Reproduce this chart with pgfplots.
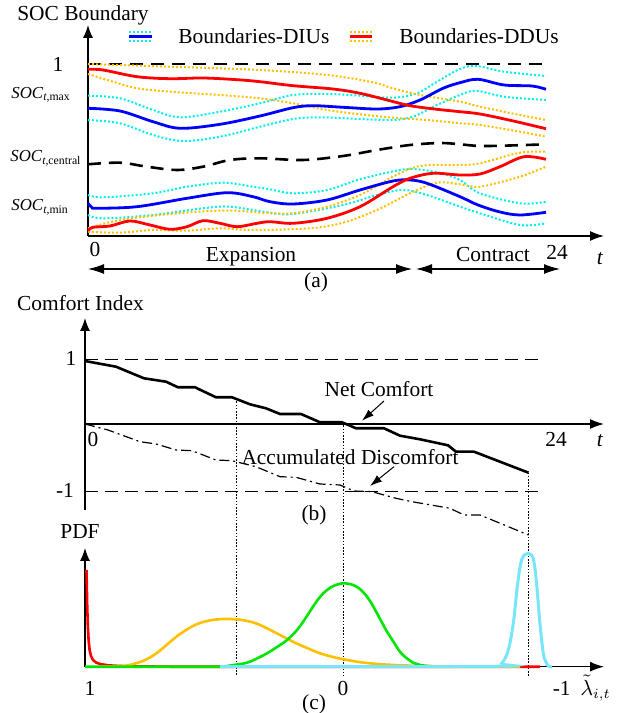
\documentclass[border=0pt]{standalone}
\usepackage{fontspec}
\setmainfont{Liberation Serif}
\usepackage{pgfplots}
\pgfplotsset{compat=1.18}
\usetikzlibrary{arrows.meta}

\definecolor{dblue}{RGB}{0,0,255}
\definecolor{dred}{RGB}{255,0,0}
\definecolor{lcyan}{RGB}{0,240,240}
\definecolor{lorange}{RGB}{255,192,0}
\definecolor{pgreen}{RGB}{0,230,0}
\definecolor{pcyan}{RGB}{120,230,250}

% every panel is laid out in picture pixels (0.5pt each), y counted downwards
\pgfplotsset{
  panel/.style={x=0.5pt, y=0.5pt, anchor=south west, xtick=\empty, ytick=\empty, clip=false,
    x axis line style={line width=0.65pt,-{Latex[length=7pt,width=5pt]}},
    y axis line style={line width=0.65pt,-{Latex[length=6.5pt,width=5pt]}}},
}
\tikzset{
  bound/.style={line width=1.4pt, smooth, tension=0.55},
  band/.style={line width=1pt, dash pattern=on 1pt off 1pt, smooth, tension=0.55},
  ref/.style={black, line width=1.3pt, dash pattern=on 6.5pt off 4pt},
}

\begin{document}
\begin{tikzpicture}[font=\fontsize{10.7}{12.8}\selectfont]
\path[use as bounding box] (0,0) rectangle (312.5pt,356.5pt);

% ---------------- (a) SOC boundaries
\begin{axis}[axis lines=left, panel, at={(44pt,238.5pt)},
  xmin=88, xmax=604, ymin=-236, ymax=-25]
\addplot[ref] coordinates {(88,-64) (546,-64)};
\addplot[ref, smooth, tension=0.55] coordinates {
(88,-164.3) (120,-162.7) (147,-166.7) (177,-170) (203,-166.7) (230,-160)
(260,-158.3) (303,-160) (343,-156) (377,-150) (410,-145) (440,-143)
(460,-144.3) (480,-146) (510,-145.5) (546,-144.3)};

% DIUs, upper boundary
\addplot[band, lcyan] coordinates {
(88,-95.7) (120,-98.3) (153,-110) (180,-117.3) (220,-111.7) (260,-103.3)
(293,-95) (327,-94) (360,-95.7) (393,-97.7) (417,-93.3) (437,-81.7)
(460,-69) (476,-66) (504,-71.7) (546,-76)};
\addplot[band, lcyan] coordinates {
(88,-120) (120,-123.3) (153,-135) (183,-141) (220,-136.7) (260,-126.7)
(293,-119) (320,-117.3) (360,-119) (393,-120) (413,-116.7) (437,-105)
(460,-95) (476,-90.7) (504,-96.7) (546,-100)};
% DDUs, upper boundary
\addplot[band, lorange] coordinates {
(88,-64) (170,-66.7) (260,-70) (327,-75) (370,-81.7) (393,-88.3)
(420,-95) (460,-101.7) (480,-106.7) (520,-115) (546,-120)};
\addplot[band, lorange] coordinates {
(88,-74) (113,-81.7) (137,-88.3) (170,-91.7) (220,-95) (260,-98.3)
(293,-103.3) (327,-110) (360,-114.3) (393,-117.7) (427,-120) (460,-123.3)
(480,-125) (520,-131.7) (546,-136.7)};
\addplot[bound, dblue] coordinates {
(88,-108.3) (120,-111) (153,-121.7) (180,-128.3) (220,-124.3) (260,-116)
(293,-107.7) (313,-105.7) (343,-107.3) (377,-109) (400,-106.7) (420,-100)
(443,-88.3) (460,-82.7) (478,-79.3) (504,-85) (532,-86) (546,-89.3)};
\addplot[bound, dred] coordinates {
(88,-69.3) (103,-70) (137,-76.7) (170,-78.7) (203,-78) (237,-79.7)
(260,-81.7) (293,-85.7) (333,-89) (360,-93.3) (387,-100) (410,-105.7)
(437,-109.3) (460,-111.7) (480,-114) (512,-120.7) (546,-128.7)};

% DIUs, lower boundary
\addplot[band, lcyan] coordinates {
(88,-195) (103,-197.3) (153,-193.3) (187,-186.7) (223,-182.7) (253,-186.7)
(270,-189.3) (293,-193.3) (327,-190) (360,-179.3) (400,-170) (417,-169.3)
(440,-173) (460,-180) (480,-193.3) (520,-203.3) (546,-201.7)};
\addplot[band, lcyan] coordinates {
(88,-215) (103,-218.3) (153,-215) (203,-208.3) (230,-206.7) (270,-212.7)
(293,-214) (343,-205) (377,-195) (403,-190) (427,-195) (460,-206.7)
(480,-213.3) (520,-225) (546,-223.3)};
% DDUs, lower boundary
\addplot[band, lorange] coordinates {
(88,-228.3) (120,-220) (170,-214) (210,-211) (237,-210.7) (265,-213)
(293,-213.3) (327,-206.7) (360,-195) (393,-176.7) (420,-166) (460,-165)
(480,-163.3) (520,-152.7) (546,-151.7)};
\addplot[band, lorange] coordinates {
(88,-231.7) (120,-232.7) (153,-230) (187,-230.7) (220,-228.3) (253,-230)
(310,-228.3) (343,-222.7) (377,-210) (410,-193.3) (437,-182.7) (460,-184.3)
(480,-186.7) (520,-176.7) (546,-166.7)};
\addplot[bound, dblue] coordinates {
(88,-203.3) (92,-207.5) (97,-208.3) (137,-206.7) (187,-198.3) (227,-192.7)
(253,-196.7) (270,-201.7) (293,-204) (327,-200) (360,-190) (393,-181)
(410,-180) (427,-183.3) (460,-196.7) (478,-205) (500,-212) (520,-215) (546,-212.3)};
\addplot[bound, dred] coordinates {
(88,-230.7) (93,-227.3) (110,-226) (130,-221) (150,-225) (170,-229.3)
(187,-226.7) (203,-220.7) (220,-223.3) (237,-226.7) (257,-223.3) (270,-221.7)
(293,-223.3) (327,-218.3) (360,-206.7) (393,-186.7) (410,-178.3) (433,-173.3)
(460,-175) (480,-174) (500,-166.7) (524,-156.7) (546,-159.3)};

% legend
\draw[band, lcyan] (axis cs:129,-32) -- (axis cs:152,-32);
\draw[dblue, line width=1.4pt] (axis cs:129,-36.5) -- (axis cs:152,-36.5);
\draw[band, lcyan] (axis cs:129,-41.5) -- (axis cs:152,-41.5);
\node[anchor=base west, inner sep=0pt] at (axis cs:178,-43.3) {Boundaries-DIUs};
\draw[band, lorange] (axis cs:350,-32) -- (axis cs:372,-32);
\draw[dred, line width=1.4pt] (axis cs:350,-36.5) -- (axis cs:372,-36.5);
\draw[band, lorange] (axis cs:350,-41.5) -- (axis cs:372,-41.5);
\node[anchor=base west, inner sep=0pt] at (axis cs:399,-43.3) {Boundaries-DDUs};

\node[anchor=base] at (axis cs:83,-20.7) {SOC Boundary};
\node[anchor=base] at (axis cs:58,-71.7) {1};
\begin{scope}[font=\fontsize{8.4}{10}\selectfont]
\node[anchor=base west, inner sep=0pt] at (axis cs:11,-99) {\textit{SOC}\textsubscript{\textit{t},max}};
\node[anchor=base west, inner sep=0pt] at (axis cs:10,-162) {\textit{SOC}\textsubscript{\textit{t},central}};
\node[anchor=base west, inner sep=0pt] at (axis cs:11,-211) {\textit{SOC}\textsubscript{\textit{t},min}};
\end{scope}
\node[anchor=base] at (axis cs:95,-256.7) {0};
\node[anchor=base] at (axis cs:251,-261.7) {Expansion};
\node[anchor=base] at (axis cs:493,-261.7) {Contract};
\node[anchor=base] at (axis cs:557,-260) {24};
\node[anchor=base] at (axis cs:600,-265) {\textit{t}};
\draw[line width=0.6pt, {Latex[length=8pt,width=5pt]}-{Latex[length=8pt,width=5pt]}]
  (axis cs:88,-269) -- (axis cs:412,-269);
\draw[line width=0.6pt, {Latex[length=8pt,width=5pt]}-{Latex[length=8pt,width=5pt]}]
  (axis cs:416,-269) -- (axis cs:560,-269);
\node[anchor=base] at (axis cs:316,-288) {(a)};
\end{axis}

% ---------------- (b) comfort index
\begin{axis}[axis x line=middle, axis y line=left, panel, at={(42.5pt,101.5pt)},
  xmin=85, xmax=604, ymin=-86, ymax=106]
\addplot[black, line width=0.5pt, dash pattern=on 6.5pt off 3.5pt] coordinates {(85,64) (542,64)};
\addplot[black, line width=0.5pt, dash pattern=on 6.5pt off 3.5pt] coordinates {(85,-67.7) (542,-67.7)};
% net comfort
\addplot[black, line width=1.3pt] coordinates {
(85,63) (116,57.3) (128,52.3) (144,45.7) (166,42.3) (178,36.7) (195,36.7)
(216,26.7) (232,26.7) (250,19.7) (266,15.7) (280,10) (301,10) (320,1.7)
(342,1.7) (356,-4.3) (384,-4.3) (400,-11.7) (420,-15.3) (448,-21.3)
(456,-27.7) (474,-27.7) (528.5,-48.7)};
% accumulated discomfort
\addplot[black, line width=0.6pt, dash pattern=on 5pt off 2pt on 1pt off 2pt] coordinates {
(85,0) (108,-6) (140,-17.7) (156,-20) (176,-26) (192,-26.7) (216,-36)
(232,-36.7) (256,-42.7) (280,-52.7) (296,-53.3) (320,-60) (340,-61)
(354,-67) (372,-67.7) (396,-74.3) (412,-77.7) (450,-84.3) (464,-91)
(480,-91) (528.5,-111)};
% guides down to the PDF panel
\addplot[black, line width=0.5pt, dash pattern=on 0.8pt off 0.8pt] coordinates {(236,25.7) (236,-252)};
\addplot[black, line width=0.5pt, dash pattern=on 0.8pt off 0.8pt] coordinates {(343.5,1.7) (343.5,-252)};
\addplot[black, line width=0.5pt, dash pattern=on 0.8pt off 0.8pt] coordinates {(528.5,-48.7) (528.5,-252)};

\node[anchor=base] at (axis cs:80.5,113.3) {Comfort Index};
\node[anchor=base] at (axis cs:71,58) {1};
\node[anchor=base] at (axis cs:65,-73.3) {-1};
\node[anchor=base] at (axis cs:93,-22.7) {0};
\node[anchor=base] at (axis cs:556,-22.7) {24};
\node[anchor=base] at (axis cs:600,-22.7) {\textit{t}};
\node[anchor=base] at (axis cs:379,27.3) {Net Comfort};
\draw[line width=0.5pt, -{Latex[length=6pt,width=4pt]}] (axis cs:384,23) -- (axis cs:362,3.3);
\node[anchor=base] at (axis cs:350,-41) {Accumulated Discomfort};
\draw[line width=0.5pt, -{Latex[length=6pt,width=4pt]}] (axis cs:394,-42.7) -- (axis cs:370,-62);
\node[anchor=base] at (axis cs:314,-96.7) {(b)};
\end{axis}

% ---------------- (c) PDF
\begin{axis}[axis lines=left, panel, at={(42.5pt,23.15pt)},
  xmin=85, xmax=604, ymin=-666.7, ymax=-548]
\addplot[dred, line width=1.3pt] coordinates {
(86.5,-570) (86.8,-585) (87.2,-605) (87.8,-625) (88.6,-640) (89.6,-650)
(91,-656) (93,-660) (96,-662.5) (100,-664) (108,-665.3) (120,-666)
(140,-666.4) (170,-666.7) (540,-666.7)};
\addplot[lorange, line width=1.3pt, smooth, tension=0.6] coordinates {
(100,-666.5) (115,-666.2) (127,-665.5) (140,-662) (150,-657.5) (160,-650.5)
(170,-642) (180,-634) (193,-626) (205,-621.5) (218,-619.3) (230,-619)
(242,-620) (255,-623) (267,-628.3) (280,-635) (293,-641.7) (307,-648)
(320,-653.3) (335,-657.5) (350,-660.5) (365,-662.8) (385,-664.5)
(410,-665.6) (450,-666.3) (520,-666.7)};
\addplot[pgreen, line width=1.3pt, smooth, tension=0.7] coordinates {
(85,-666.7) (220,-666.7) (227,-666) (237,-664.5) (247,-662.7) (257,-658.5)
(267,-653.3) (277,-647) (287,-640) (297,-630) (305,-619) (313,-606.7)
(320,-597) (327,-590) (335,-585.3) (345,-583.3) (355,-585.8) (363,-592)
(370,-601) (377,-613.3) (387,-631.7) (393,-641) (400,-651.7) (407,-658.5)
(413,-662.7) (420,-665) (427,-666) (440,-666.7)};
\addplot[pcyan, line width=1.5pt, smooth, tension=0.6] coordinates {
(220,-666.7) (493,-666.3) (501.7,-663.3) (508.3,-650) (513.3,-623.3)
(516.7,-592) (519.5,-570) (522,-559) (525,-554.5) (528.3,-553.3) (531.5,-555)
(534,-562) (536.7,-585) (540,-624) (543.3,-653.3) (546,-662) (548.3,-666) (552,-667)};

\node[anchor=base] at (axis cs:80,-538.3) {PDF};
\node[anchor=base] at (axis cs:90,-695) {1};
\node[anchor=base] at (axis cs:343,-695) {0};
\node[anchor=base east, inner sep=0pt] at (axis cs:571,-695) {-1};
\node[anchor=base west, inner sep=0pt] at (axis cs:580,-695) {$\tilde{\lambda}_{i,t}$};
\node[anchor=base] at (axis cs:314,-709) {(c)};
\end{axis}
\end{tikzpicture}
\end{document}
